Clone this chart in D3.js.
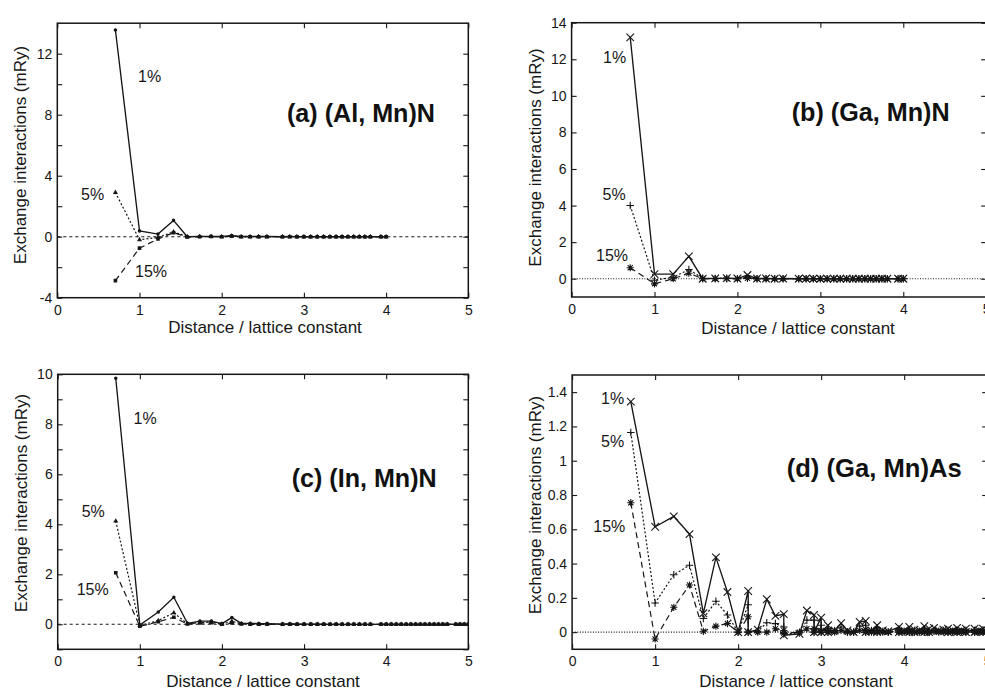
<!DOCTYPE html>
<html>
<head>
<meta charset="utf-8">
<script src="https://cdn.jsdelivr.net/npm/d3@7"></script>
<style>
  html, body { margin: 0; padding: 0; background: #fff; }
  svg { display: block; font-family: "Liberation Sans", Arial, Helvetica, sans-serif; }
</style>
</head>
<body>
<svg id="fig" width="985" height="690"></svg>
<script>
// ---- data -------------------------------------------------------------
// Mn-Mn pair distances (units of the lattice constant), fcc cation sublattice
const shellsTo4 = [0.707, 1.0, 1.225, 1.414, 1.581, 1.732, 1.871, 2.0, 2.121, 2.236,
  2.345, 2.449, 2.55, 2.739, 2.828, 2.915, 3.0, 3.082, 3.162, 3.24,
  3.317, 3.391, 3.464, 3.536, 3.606, 3.674, 3.742, 3.808, 3.937, 4.0];

const shellsTo5 = [0.707, 1.0, 1.225, 1.414, 1.581, 1.732, 1.871, 2.0, 2.121, 2.236,
  2.345, 2.449, 2.55, 2.739, 2.828, 2.915, 3.0, 3.082, 3.162, 3.24,
  3.317, 3.391, 3.464, 3.536, 3.606, 3.674, 3.742, 3.808, 3.937, 4.0,
  4.062, 4.123, 4.183, 4.243, 4.301, 4.359, 4.416, 4.472, 4.528, 4.583,
  4.637, 4.69, 4.743, 4.848, 4.899, 4.95, 5.0];

// (Ga,Mn)As: inequivalent shells sharing one distance are listed separately
const shellsGaMnAs = [0.707, 1.0, 1.225, 1.414, 1.581, 1.732, 1.871, 2.0, 2.121, 2.121,
  2.236, 2.345, 2.449, 2.55, 2.55, 2.739, 2.828, 2.915, 2.915, 3.0,
  3.0, 3.082, 3.082, 3.162, 3.24, 3.317, 3.391, 3.464, 3.536, 3.536,
  3.606, 3.674, 3.674, 3.742, 3.808, 3.937, 3.937, 4.0, 4.062, 4.062,
  4.123, 4.123, 4.183, 4.243, 4.243, 4.301, 4.301, 4.359, 4.416, 4.472,
  4.528, 4.528, 4.583, 4.637, 4.637, 4.69, 4.743, 4.743, 4.848, 4.848,
  4.899, 4.95, 4.95, 5.0];

// Exchange interactions J (mRy) for 1 %, 5 % and 15 % Mn
const alMnN1 = [13.55, 0.38, 0.17, 1.07, 0.0, 0.02, 0.02, 0.01, 0.08, 0.01,
  0.01, 0.01, 0.01, 0.0, 0.01, 0.0, 0.0, 0.0, 0.0, 0.0,
  0.0, 0.0, 0.0, 0.0, 0.0, 0.0, 0.0, 0.0, 0.0, 0.0];
const alMnN5 = [2.9, -0.2, -0.05, 0.32, 0.0, 0.01, 0.01, 0.0, 0.04, 0.0,
  0.0, 0.0, 0.0, 0.0, 0.0, 0.0, 0.0, 0.0, 0.0, 0.0,
  0.0, 0.0, 0.0, 0.0, 0.0, 0.0, 0.0, 0.0, 0.0, 0.0];
const alMnN15 = [-2.88, -0.75, -0.15, 0.26, -0.02, 0.0, 0.01, 0.0, 0.03, 0.0,
  0.0, 0.0, 0.0, 0.0, 0.0, 0.0, 0.0, 0.0, 0.0, 0.0,
  0.0, 0.0, 0.0, 0.0, 0.0, 0.0, 0.0, 0.0, 0.0, 0.0];

const gaMnN1 = [13.2, 0.25, 0.25, 1.22, 0.0, 0.02, 0.03, 0.01, 0.2, 0.01,
  0.01, 0.0, 0.01, 0.0, 0.01, 0.0, 0.0, 0.0, 0.0, 0.0,
  0.0, 0.0, 0.0, 0.0, 0.0, 0.0, 0.0, 0.0, 0.0, 0.0];
const gaMnN5 = [4.0, -0.08, 0.08, 0.5, 0.02, 0.01, 0.02, 0.0, 0.06, 0.0,
  0.0, 0.0, 0.0, 0.0, 0.0, 0.0, 0.0, 0.0, 0.0, 0.0,
  0.0, 0.0, 0.0, 0.0, 0.0, 0.0, 0.0, 0.0, 0.0, 0.0];
const gaMnN15 = [0.6, -0.28, 0.0, 0.3, 0.0, 0.0, 0.01, 0.0, 0.02, 0.0,
  0.0, 0.0, 0.0, 0.0, 0.0, 0.0, 0.0, 0.0, 0.0, 0.0,
  0.0, 0.0, 0.0, 0.0, 0.0, 0.0, 0.0, 0.0, 0.0, 0.0];

const inMnN1 = [9.84, -0.03, 0.49, 1.08, 0.04, 0.13, 0.13, 0.03, 0.27, 0.04,
  0.04, 0.03, 0.03, 0.01, 0.02, 0.01, 0.01, 0.01, 0.01, 0.01,
  0.0, 0.0, 0.0, 0.0, 0.0, 0.0, 0.0, 0.0, 0.0, 0.0,
  0.0, 0.0, 0.0, 0.0, 0.0, 0.0, 0.0, 0.0, 0.0, 0.0,
  0.0, 0.0, 0.0, 0.0, 0.0, 0.0, 0.0];
const inMnN5 = [4.13, -0.05, 0.15, 0.46, 0.02, 0.07, 0.09, 0.01, 0.12, 0.02,
  0.01, 0.01, 0.01, 0.0, 0.0, 0.0, 0.0, 0.0, 0.0, 0.0,
  0.0, 0.0, 0.0, 0.0, 0.0, 0.0, 0.0, 0.0, 0.0, 0.0,
  0.0, 0.0, 0.0, 0.0, 0.0, 0.0, 0.0, 0.0, 0.0, 0.0,
  0.0, 0.0, 0.0, 0.0, 0.0, 0.0, 0.0];
const inMnN15 = [2.06, -0.08, 0.1, 0.28, 0.01, 0.05, 0.06, 0.0, 0.05, 0.01,
  0.0, 0.0, 0.0, 0.0, 0.0, 0.0, 0.0, 0.0, 0.0, 0.0,
  0.0, 0.0, 0.0, 0.0, 0.0, 0.0, 0.0, 0.0, 0.0, 0.0,
  0.0, 0.0, 0.0, 0.0, 0.0, 0.0, 0.0, 0.0, 0.0, 0.0,
  0.0, 0.0, 0.0, 0.0, 0.0, 0.0, 0.0];

const gaMnAs1 = [1.345, 0.615, 0.675, 0.572, 0.11, 0.436, 0.234, 0.0, 0.24, 0.0,
  0.015, 0.192, 0.095, 0.105, -0.018, -0.01, 0.126, 0.1, 0.0, 0.085,
  0.0, 0.04, 0.0, 0.01, 0.052, 0.01, 0.0, 0.06, 0.065, 0.0,
  0.01, 0.04, 0.0, 0.01, 0.005, 0.03, 0.0, 0.01, 0.03, 0.0,
  0.015, 0.0, 0.01, 0.035, 0.0, 0.02, 0.0, 0.025, 0.01, 0.015,
  0.02, 0.0, 0.01, 0.025, 0.0, 0.01, 0.02, 0.0, 0.02, 0.0,
  0.01, 0.02, 0.0, 0.01];
const gaMnAs5 = [1.165, 0.17, 0.335, 0.39, 0.08, 0.18, 0.1, 0.0, 0.16, 0.0,
  0.005, 0.055, 0.05, 0.03, -0.01, -0.005, 0.07, 0.07, 0.0, 0.04,
  0.0, 0.02, 0.0, 0.01, 0.03, 0.0, 0.0, 0.035, 0.04, 0.0,
  0.01, 0.025, 0.0, 0.005, 0.0, 0.02, 0.0, 0.005, 0.015, 0.0,
  0.01, 0.0, 0.005, 0.02, 0.0, 0.01, 0.0, 0.01, 0.005, 0.01,
  0.01, 0.0, 0.005, 0.01, 0.0, 0.005, 0.01, 0.0, 0.01, 0.0,
  0.005, 0.01, 0.0, 0.005];
const gaMnAs15 = [0.755, -0.04, 0.145, 0.275, 0.005, 0.035, 0.05, 0.0, 0.09, 0.0,
  0.0, 0.0, 0.02, 0.01, -0.005, 0.0, 0.02, 0.02, 0.0, 0.01,
  0.0, 0.01, 0.0, 0.0, 0.01, 0.0, 0.0, 0.01, 0.015, 0.0,
  0.0, 0.01, 0.0, 0.0, 0.0, 0.005, 0.0, 0.0, 0.005, 0.0,
  0.0, 0.0, 0.0, 0.005, 0.0, 0.0, 0.0, 0.005, 0.0, 0.0,
  0.005, 0.0, 0.0, 0.005, 0.0, 0.0, 0.005, 0.0, 0.0, 0.0,
  0.0, 0.005, 0.0, 0.0];

const concLabels = ["1%", "5%", "15%"];
const xTicks = [0, 1, 2, 3, 4, 5];
const yTicksAlMnN = [-4, -2, 0, 2, 4, 6, 8, 10, 12];
const yLabelsAlMnN = [-4, 0, 4, 8, 12];
const yTicksGaMnN = [0, 2, 4, 6, 8, 10, 12, 14];
const yTicksInMnN = [-1, 0, 1, 2, 3, 4, 5, 6, 7, 8, 9, 10];
const yLabelsInMnN = [0, 2, 4, 6, 8, 10];
const yTicksGaMnAs = [0, 0.2, 0.4, 0.6, 0.8, 1.0, 1.2, 1.4];

const xTitle = "Distance / lattice constant";
const yTitle = "Exchange interactions (mRy)";

// ---- layout -----------------------------------------------------------
const INK = "#161616";
const svg = d3.select("#fig");

const panels = [
  { title: "(a) (Al, Mn)N", titleX: 287, titleY: 122, titleW: 148,
    xr: [57.3, 468.3], yd: [-4, 14], yr: [297.7, 23.2],
    yTicks: yTicksAlMnN, yLabels: yLabelsAlMnN, style: "dots", zeroDash: "3,3",
    dist: shellsTo4, series: [alMnN1, alMnN5, alMnN15],
    conc: [[138, 82], [81, 200], [135, 277]],
    yLab: [26, 155], xLab: [265, 333] },
  { title: "(b) (Ga, Mn)N", titleX: 791.7, titleY: 121, titleW: 158,
    xr: [571.6, 986.2], yd: [-1, 14], yr: [297, 22.7],
    yTicks: yTicksGaMnN, yLabels: yTicksGaMnN, style: "cross", zeroDash: "1,1.6",
    dist: shellsTo4, series: [gaMnN1, gaMnN5, gaMnN15],
    conc: [[603, 62.5], [602.5, 200], [596, 261]],
    yLab: [541, 157.5], xLab: [798, 334] },
  { title: "(c) (In, Mn)N", titleX: 291.7, titleY: 487, titleW: 145,
    xr: [57.7, 468.3], yd: [-1, 10], yr: [649.3, 374.3],
    yTicks: yTicksInMnN, yLabels: yLabelsInMnN, style: "dots", zeroDash: "3,3",
    dist: shellsTo5, series: [inMnN1, inMnN5, inMnN15],
    conc: [[133.5, 423.5], [81.7, 516.7], [76.7, 595]],
    yLab: [27, 503], xLab: [263, 687] },
  { title: "(d) (Ga, Mn)As", titleX: 786.7, titleY: 477, titleW: 175,
    xr: [572.1, 987.2], yd: [-0.1, 1.5], yr: [649.3, 375],
    yTicks: yTicksGaMnAs, yLabels: yTicksGaMnAs, style: "cross", zeroDash: "1,1.6",
    dist: shellsGaMnAs, series: [gaMnAs1, gaMnAs5, gaMnAs15],
    conc: [[601, 404.3], [601, 446.7], [593.3, 531.7]],
    yLab: [541, 505], xLab: [796, 687] }
];

const lineDash = [null, "2,2", "6,4"];
const lineWidth = [1.35, 1.2, 1.2];

// marker outlines for the stroked glyph styles
const glyph = {
  times: s => `M${-s},${-s}L${s},${s}M${-s},${s}L${s},${-s}`,
  plus: s => `M${-s},0H${s}M0,${-s}V${s}`,
  star: s => { const t = s * 0.72; return `M${-s},0H${s}M0,${-s}V${s}M${-t},${-t}L${t},${t}M${-t},${t}L${t},${-t}`; }
};

function fmtTick(labels) {
  return d => labels.some(v => Math.abs(v - d) < 1e-9) ? String(+d.toFixed(1)) : "";
}

panels.forEach((p, pi) => {
  const x = d3.scaleLinear().domain([0, 5]).range(p.xr);
  const y = d3.scaleLinear().domain(p.yd).range(p.yr);
  const g = svg.append("g");

  const clipId = "clip" + pi;
  g.append("clipPath").attr("id", clipId).append("rect")
    .attr("x", p.xr[0]).attr("y", p.yr[1])
    .attr("width", p.xr[1] - p.xr[0]).attr("height", p.yr[0] - p.yr[1]);

  // zero reference line
  g.append("line")
    .attr("x1", p.xr[0]).attr("x2", p.xr[1])
    .attr("y1", y(0)).attr("y2", y(0))
    .attr("stroke", INK).attr("stroke-width", 1.1)
    .attr("stroke-dasharray", p.zeroDash);

  // axes with inward ticks on all four sides
  const axB = g.append("g").attr("transform", `translate(0,${p.yr[0]})`)
    .call(d3.axisBottom(x).tickValues(xTicks).tickSize(-5).tickPadding(7).tickFormat(d3.format("d")));
  const axT = g.append("g").attr("transform", `translate(0,${p.yr[1]})`)
    .call(d3.axisTop(x).tickValues(xTicks).tickSize(-5).tickFormat(""));
  const axL = g.append("g").attr("transform", `translate(${p.xr[0]},0)`)
    .call(d3.axisLeft(y).tickValues(p.yTicks).tickSize(-5).tickPadding(5).tickFormat(fmtTick(p.yLabels)));
  const axR = g.append("g").attr("transform", `translate(${p.xr[1]},0)`)
    .call(d3.axisRight(y).tickValues(p.yTicks).tickSize(-5).tickFormat(""));
  [axB, axT, axL, axR].forEach(a => {
    a.select(".domain").remove();
    a.selectAll("line").attr("stroke", INK).attr("stroke-width", 1.1);
    a.selectAll("text").attr("fill", INK).style("font-size", "14px")
      .style("font-family", "'Liberation Sans', Arial, sans-serif");
  });

  // plot frame
  g.append("rect")
    .attr("x", p.xr[0]).attr("y", p.yr[1])
    .attr("width", p.xr[1] - p.xr[0]).attr("height", p.yr[0] - p.yr[1])
    .attr("fill", "none").attr("stroke", INK).attr("stroke-width", 1.5);

  // series: lines then markers
  const plot = g.append("g").attr("clip-path", `url(#${clipId})`);
  const line = d3.line().x(d => x(d[0])).y(d => y(d[1]));
  p.series.forEach((vals, si) => {
    const pts = p.dist.map((d, i) => [d, vals[i]]);
    plot.append("path").datum(pts)
      .attr("d", line)
      .attr("fill", "none").attr("stroke", INK)
      .attr("stroke-width", lineWidth[si])
      .attr("stroke-dasharray", lineDash[si]);

    const mk = plot.append("g").selectAll("path").data(pts).join("path")
      .attr("transform", d => `translate(${x(d[0])},${y(d[1])})`);
    if (p.style === "dots") {
      if (si === 0) mk.attr("d", d3.symbol(d3.symbolCircle, 10)).attr("fill", INK);
      else if (si === 1) mk.attr("d", d3.symbol(d3.symbolTriangle, 11)).attr("fill", INK);
      else mk.attr("d", d3.symbol(d3.symbolSquare, 13)).attr("fill", INK);
    } else {
      const shape = [glyph.times(3.8), glyph.plus(3.8), glyph.star(3.6)][si];
      mk.attr("d", shape).attr("fill", "none").attr("stroke", INK).attr("stroke-width", 1.1);
    }
  });

  // concentration labels
  concLabels.forEach((t, i) => {
    g.append("text").attr("x", p.conc[i][0]).attr("y", p.conc[i][1])
      .attr("fill", INK).style("font-size", "16px").text(t);
  });

  // panel title
  g.append("text").attr("x", p.titleX).attr("y", p.titleY)
    .attr("fill", "#111").style("font-size", "25px").style("font-weight", "bold")
    .attr("textLength", p.titleW).attr("lengthAdjust", "spacingAndGlyphs")
    .text(p.title);

  // axis titles
  g.append("text").attr("x", p.xLab[0]).attr("y", p.xLab[1])
    .attr("text-anchor", "middle").attr("fill", INK).style("font-size", "17px")
    .text(xTitle);
  g.append("text")
    .attr("transform", `translate(${p.yLab[0]},${p.yLab[1]}) rotate(-90)`)
    .attr("text-anchor", "middle").attr("fill", INK).style("font-size", "17px")
    .text(yTitle);
});
</script>
</body>
</html>
